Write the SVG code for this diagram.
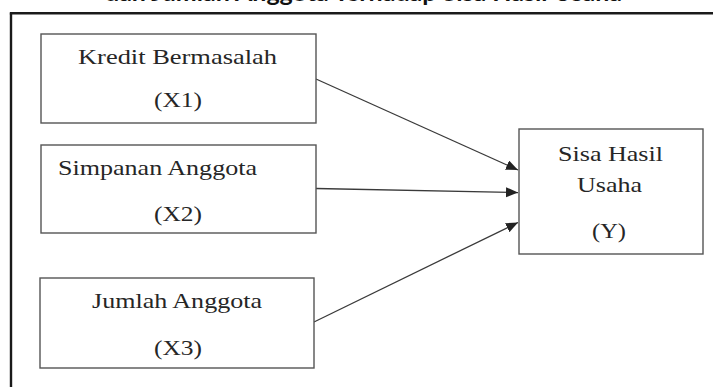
<svg xmlns="http://www.w3.org/2000/svg" width="713" height="387" viewBox="0 0 713 387">
  <style>
    .box { fill: #ffffff; stroke: #555555; stroke-width: 1.4; }
    .lbl { font-family: "Liberation Serif", "Times New Roman", serif; font-size: 22px; fill: #262626; }
    .title { font-family: Lato, "Liberation Sans", sans-serif; font-weight: bold; font-size: 22px; fill: #111111; }
    .frame { stroke: #1a1a1a; stroke-width: 2.4; fill: none; }
    .conn { stroke: #3a3a3a; stroke-width: 1.3; fill: none; marker-end: url(#arrow); }
  </style>
  <defs>
    <marker id="arrow" markerUnits="userSpaceOnUse" markerWidth="13" markerHeight="11" refX="12" refY="5" orient="auto">
      <path d="M0,0 L12,5 L0,10 z" fill="#222222"/>
    </marker>
  </defs>
  <rect width="713" height="387" fill="#ffffff"/>
  <text class="title" x="105" y="1" textLength="517" lengthAdjust="spacingAndGlyphs">dan Jumlah Anggota Terhadap Sisa Hasil Usaha</text>
  <g id="frame">
    <line class="frame" x1="9.8" y1="13.3" x2="713" y2="13.3"/>
    <line class="frame" x1="11" y1="13.3" x2="11" y2="387"/>
  </g>
  <g id="connectors">
    <line class="conn" x1="316" y1="79" x2="518" y2="170"/>
    <line class="conn" x1="316" y1="188.5" x2="518" y2="192.5"/>
    <line class="conn" x1="314" y1="322" x2="518" y2="222.5"/>
  </g>
  <g id="node-x1">
    <rect class="box" x="41" y="34" width="275" height="89"/>
    <text class="lbl" x="78" y="64" textLength="199" lengthAdjust="spacingAndGlyphs">Kredit Bermasalah</text>
    <text class="lbl" x="154" y="107" textLength="48" lengthAdjust="spacingAndGlyphs">(X1)</text>
  </g>
  <g id="node-x2">
    <rect class="box" x="41" y="145" width="275" height="88"/>
    <text class="lbl" x="58" y="175" textLength="199" lengthAdjust="spacingAndGlyphs">Simpanan Anggota</text>
    <text class="lbl" x="154" y="221" textLength="48" lengthAdjust="spacingAndGlyphs">(X2)</text>
  </g>
  <g id="node-x3">
    <rect class="box" x="40" y="278" width="274" height="90"/>
    <text class="lbl" x="92" y="308" textLength="170" lengthAdjust="spacingAndGlyphs">Jumlah Anggota</text>
    <text class="lbl" x="154" y="355" textLength="48" lengthAdjust="spacingAndGlyphs">(X3)</text>
  </g>
  <g id="node-y">
    <rect class="box" x="519" y="129" width="184" height="125"/>
    <text class="lbl" x="558" y="161" textLength="105" lengthAdjust="spacingAndGlyphs">Sisa Hasil</text>
    <text class="lbl" x="577" y="192" textLength="65" lengthAdjust="spacingAndGlyphs">Usaha</text>
    <text class="lbl" x="592" y="238" textLength="34" lengthAdjust="spacingAndGlyphs">(Y)</text>
  </g>
</svg>
